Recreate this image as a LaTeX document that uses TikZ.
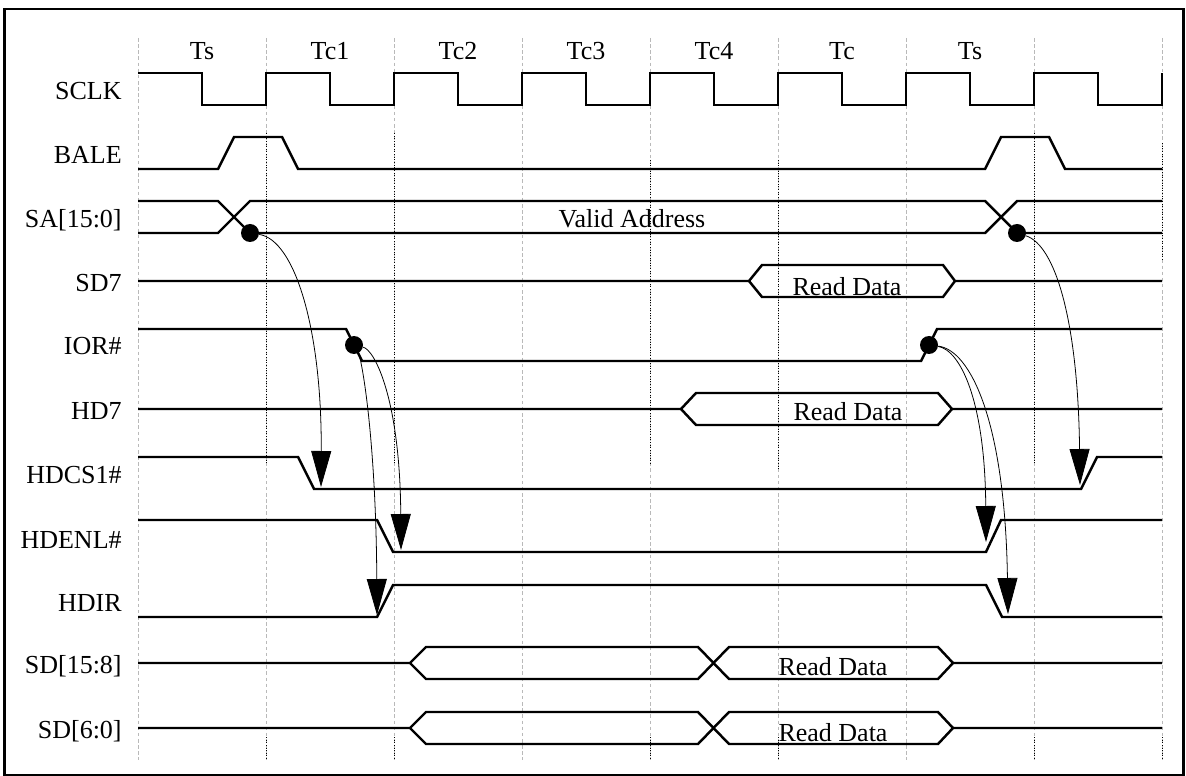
\documentclass[tikz,border=0pt]{standalone}
\usepackage{fontspec}
\setmainfont{Liberation Serif}
\usetikzlibrary{arrows.meta}
\begin{document}
\begin{tikzpicture}[x=0.02cm,y=-0.02cm]
	\tikzset{sig/.style={line width=1.4pt, line join=miter},
		gridln/.style={gray!55, line width=0.4pt, dash pattern=on 2pt off 1.5pt},
		markln/.style={black, line width=0.5pt, densely dotted},
		lbl/.style={font=\fontsize{14.8}{17}\selectfont, inner sep=0pt},
		dot/.style={circle, fill=black, inner sep=0pt, minimum size=0.36cm},
		dep/.style={line width=0.45pt, -{Triangle[length=0.72cm,width=0.4cm]}}}
	\useasboundingbox (0,0) rectangle (1186,776);
	\draw[line width=1.3pt] (4.5,9) rectangle (1183.5,775);
	\draw[gridln] (138,38) -- (138,760);
	\draw[gridln] (266,38) -- (266,760);
	\draw[gridln] (394,38) -- (394,760);
	\draw[gridln] (522,38) -- (522,760);
	\draw[gridln] (650,38) -- (650,760);
	\draw[gridln] (778,38) -- (778,760);
	\draw[gridln] (906,38) -- (906,760);
	\draw[gridln] (1034,38) -- (1034,760);
	\draw[gridln] (1162,38) -- (1162,760);
	\draw[markln] (266,133) -- (266,465);
	\draw[markln] (394,133) -- (394,465);
	\draw[markln] (650,160) -- (650,465);
	\draw[markln] (778,160) -- (778,470);
	\draw[markln] (1034,133) -- (1034,465);
	\draw[markln] (1162,143) -- (1162,260);
	\draw[markln] (266,737) -- (266,760);
	\draw[markln] (394,737) -- (394,760);
	\draw[markln] (650,737) -- (650,760);
	\draw[markln] (778,737) -- (778,760);
	\draw[markln] (1034,737) -- (1034,760);
	\draw[markln] (1162,737) -- (1162,760);
	\node[lbl, anchor=base] (pts) at (202,60) {Ts};
	\node[lbl, anchor=base] (ptc1) at (330,60) {Tc1};
	\node[lbl, anchor=base] (ptc2) at (458,60) {Tc2};
	\node[lbl, anchor=base] (ptc3) at (586,60) {Tc3};
	\node[lbl, anchor=base] (ptc4) at (714,60) {Tc4};
	\node[lbl, anchor=base] (ptc) at (842,60) {Tc};
	\node[lbl, anchor=base] (pts2) at (970,60) {Ts};
	\node[lbl, anchor=base east] (lsclk) at (122,100) {SCLK};
	\node[lbl, anchor=base east] (lbale) at (122,164) {BALE};
	\node[lbl, anchor=base east] (lsa) at (122,228) {SA[15:0]};
	\node[lbl, anchor=base east] (lsd7) at (122,292) {SD7};
	\node[lbl, anchor=base east] (lior) at (122,355) {IOR\#};
	\node[lbl, anchor=base east] (lhd7) at (122,419) {HD7};
	\node[lbl, anchor=base east] (lhdcs) at (122,483) {HDCS1\#};
	\node[lbl, anchor=base east] (lhdenl) at (122,548) {HDENL\#};
	\node[lbl, anchor=base east] (lhdir) at (122,611) {HDIR};
	\node[lbl, anchor=base east] (lsdhi) at (122,673) {SD[15:8]};
	\node[lbl, anchor=base east] (lsdlo) at (122,738) {SD[6:0]};
	\draw[sig] (138,73) -- (202,73) -- (202,105) -- (266,105) -- (266,73) -- (330,73) -- (330,105) -- (394,105) -- (394,73) -- (458,73) -- (458,105) -- (522,105) -- (522,73) -- (586,73) -- (586,105) -- (650,105) -- (650,73) -- (714,73) -- (714,105) -- (778,105) -- (778,73) -- (842,73) -- (842,105) -- (906,105) -- (906,73) -- (970,73) -- (970,105) -- (1034,105) -- (1034,73) -- (1098,73) -- (1098,105) -- (1162,105) -- (1162,73);
	\draw[sig] (138,169) -- (218,169) -- (234,137) -- (282,137) -- (298,169) -- (985,169) -- (1001,137) -- (1049,137) -- (1065,169) -- (1162,169);
	\draw[sig] (138,201) -- (218,201) -- (250,233) -- (985,233) -- (1017,201) -- (1162,201);
	\draw[sig] (138,233) -- (218,233) -- (250,201) -- (985,201) -- (1017,233) -- (1162,233);
	\node[lbl, anchor=base] (valid) at (632,228) {Valid Address};
	\draw[sig] (138,281) -- (749,281) -- (762,265) -- (943,265) -- (955,281) -- (1162,281);
	\draw[sig] (749,281) -- (762,297) -- (943,297) -- (955,281);
	\node[lbl, anchor=base] (rdsd7) at (847,296) {Read Data};
	\draw[sig] (138,329) -- (346,329) -- (362,361) -- (921,361) -- (937,329) -- (1162,329);
	\draw[sig] (138,409) -- (681,409) -- (696,393) -- (938,393) -- (952,409) -- (1162,409);
	\draw[sig] (681,409) -- (696,425) -- (938,425) -- (952,409);
	\node[lbl, anchor=base] (rdhd7) at (848,420) {Read Data};
	\draw[sig] (138,457) -- (298,457) -- (314,489) -- (1081,489) -- (1097,457) -- (1162,457);
	\draw[sig] (138,520) -- (377,520) -- (393,552) -- (986,552) -- (1001,520) -- (1162,520);
	\draw[sig] (138,617) -- (377,617) -- (393,585) -- (986,585) -- (1002,617) -- (1162,617);
	\draw[sig] (138,663) -- (410,663) -- (426,647) -- (698,647) -- (729,679) -- (938,679) -- (953,663) -- (1162,663);
	\draw[sig] (410,663) -- (426,679) -- (698,679) -- (729,647) -- (938,647) -- (953,663);
	\node[lbl, anchor=base] (rdhi) at (833,675) {Read Data};
	\draw[sig] (138,728) -- (410,728) -- (426,712) -- (698,712) -- (729,744) -- (938,744) -- (953,728) -- (1162,728);
	\draw[sig] (410,728) -- (426,744) -- (698,744) -- (729,712) -- (938,712) -- (953,728);
	\node[lbl, anchor=base] (rdlo) at (833,741) {Read Data};
	\node[dot] (sa1) at (250,233) {};
	\node[dot] (sa2) at (1017,233) {};
	\node[dot] (ior1) at (354,345) {};
	\node[dot] (ior2) at (929,345) {};
	\coordinate (cs1) at (321,487);
	\coordinate (cs2) at (1080,485);
	\coordinate (enl1) at (401,550);
	\coordinate (enl2) at (986,542);
	\coordinate (dir1) at (377,615);
	\coordinate (dir2) at (1008,614);
	\draw[dep] (sa1) .. controls (295,240) and (322,330) .. (cs1);
	\draw[dep] (ior1) .. controls (362,360) and (376,440) .. (dir1);
	\draw[dep] (ior1) .. controls (375,350) and (400,400) .. (enl1);
	\draw[dep] (sa2) .. controls (1055,245) and (1078,320) .. (cs2);
	\draw[dep] (ior2) .. controls (960,350) and (985,400) .. (enl2);
	\draw[dep] (ior2) .. controls (970,350) and (1005,420) .. (dir2);
\end{tikzpicture}
\end{document}
